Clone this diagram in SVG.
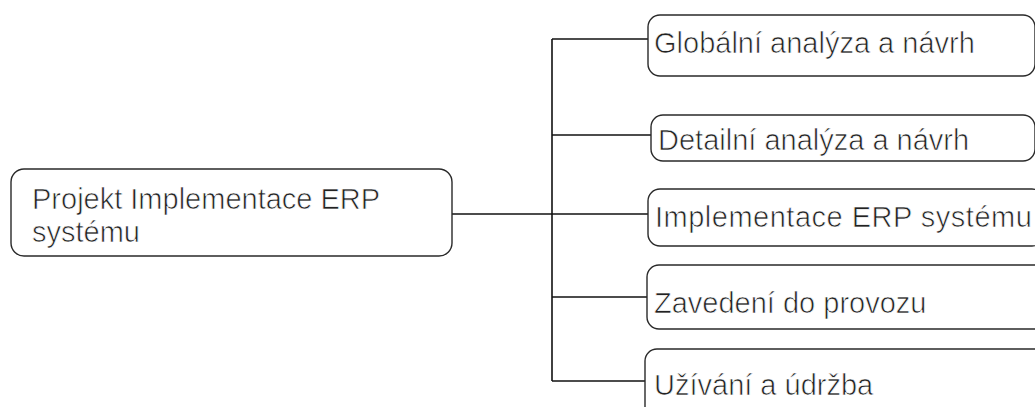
<svg xmlns="http://www.w3.org/2000/svg" width="1035" height="407" viewBox="0 0 1035 407">
  <style>
    .box { fill: #ffffff; stroke: #2a2a2a; stroke-width: 1.4; }
    /* thin white outline painted over the glyphs gives the light, hairline look */
    .label { font-family: "Liberation Sans", Arial, sans-serif; font-size: 29px; fill: #222222; stroke: #ffffff; stroke-width: 0.7px; paint-order: fill; }
    .wire { fill: none; stroke: #111111; stroke-width: 1.6; }
  </style>
  <rect width="1035" height="407" fill="#ffffff"/>

  <!-- tree connectors -->
  <g id="connectors">
    <path class="wire" d="M452 214 H552"/>
    <path class="wire" d="M552 39 V381"/>
    <path class="wire" d="M552 39 H648"/>
    <path class="wire" d="M552 135 H651"/>
    <path class="wire" d="M552 214 H648"/>
    <path class="wire" d="M552 297 H647"/>
    <path class="wire" d="M552 381 H645"/>
  </g>

  <!-- root -->
  <g id="node-root">
    <rect class="box" x="11" y="169" width="441" height="87" rx="13" ry="13"/>
    <text class="label" x="32" y="209">Projekt Implementace ERP</text>
    <text class="label" x="32" y="242">systému</text>
  </g>

  <!-- phases -->
  <g id="node-global">
    <rect class="box" x="648" y="15" width="387" height="61" rx="12" ry="12"/>
    <text class="label" x="654" y="53">Globální analýza a návrh</text>
  </g>
  <g id="node-detail">
    <rect class="box" x="651" y="115" width="384" height="46" rx="12" ry="12"/>
    <text class="label" x="658" y="150">Detailní analýza a návrh</text>
  </g>
  <g id="node-implementace">
    <rect class="box" x="648" y="189" width="396" height="57" rx="12" ry="12"/>
    <text class="label" x="655" y="227" letter-spacing="0.5">Implementace ERP systému</text>
  </g>
  <g id="node-zavedeni">
    <rect class="box" x="647" y="265" width="420" height="64" rx="12" ry="12"/>
    <text class="label" x="654" y="313">Zavedení do provozu</text>
  </g>
  <g id="node-uzivani">
    <rect class="box" x="645" y="349" width="420" height="80" rx="12" ry="12"/>
    <text class="label" x="654" y="395">Užívání a údržba</text>
  </g>
</svg>
